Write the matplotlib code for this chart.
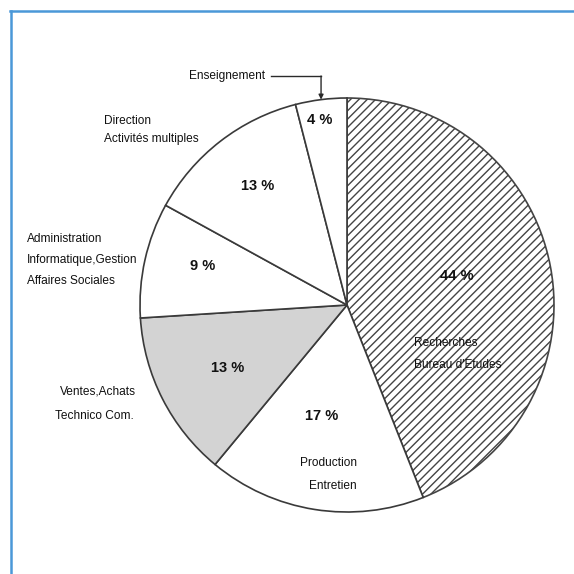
import numpy as np
import matplotlib
matplotlib.use("Agg")
import matplotlib.pyplot as plt
from matplotlib.lines import Line2D

# Répartition des effectifs par fonction (%)
categories = [
    "Recherches\nBureau d'Etudes",
    "Production\nEntretien",
    "Ventes,Achats\nTechnico Com.",
    "Administration\nInformatique,Gestion\nAffaires Sociales",
    "Direction\nActivités multiples",
    "Enseignement",
]
values = [44, 17, 13, 9, 13, 4]
fills = ["white", "white", "#d3d3d3", "white", "white", "white"]
hatches = ["////", None, None, None, None, None]

W = H = 574
fig = plt.figure(figsize=(W / 100, H / 100), dpi=100)
ax = fig.add_axes([0, 0, 1, 1])

plt.rcParams["hatch.linewidth"] = 1.0
cx, cy, R = 347, H - 305, 207

wedges, _ = ax.pie(values, startangle=90, counterclock=False,
                   center=(cx, cy), radius=R, colors=fills,
                   wedgeprops=dict(edgecolor="#3a3a3a", linewidth=1.2),
                   frame=True)
for w, h in zip(wedges, hatches):
    if h:
        w.set_hatch(h)
        w.set_edgecolor("#444444")

ax.set_xlim(0, W)
ax.set_ylim(0, H)
ax.set_aspect("equal")
ax.axis("off")

font = ["Liberation Sans", "DejaVu Sans"]

# percentage labels inside each wedge
pct_pos = [(457, 276), (322, 416), (228, 368), (203, 266), (258, 186), (320, 120)]
for v, (x, y) in zip(values, pct_pos):
    ax.text(x, H - y, f"{v} %", ha="center", va="center", fontsize=10.5,
            fontweight="bold", family=font, color="#111111")

# category labels
def label(lines, x, y, dy, ha="left"):
    for i, s in enumerate(lines):
        ax.text(x, H - (y + i * dy), s, ha=ha, va="center", fontsize=8.6,
                family=font, color="#111111")

label(["Recherches", "Bureau d'Etudes"], 414, 343, 22)
label(["Production"], 300, 463, 0)
label(["Entretien"], 309, 486, 0)
label(["Ventes,Achats"], 136, 391, 0, ha="right")
label(["Technico Com."], 55, 416, 0)
label(["Administration", "Informatique,Gestion", "Affaires Sociales"], 27, 239, 21)
label(["Direction", "Activités multiples"], 104, 121, 18)

# Enseignement: elbow leader pointing to the middle of its wedge
start = 90 - 360 * sum(values[:-1]) / 100
mid = np.deg2rad(start - 360 * values[-1] / 200)
tx, ty = cx + R * np.cos(mid), cy + R * np.sin(mid)
ax.text(265, H - 76, "Enseignement", ha="right", va="center", fontsize=8.6,
        family=font, color="#111111")
ax.plot([271, tx], [H - 76, H - 76], color="#2a2a2a", lw=1.0)
ax.annotate("", xy=(tx, ty), xytext=(tx, H - 76),
            arrowprops=dict(arrowstyle="-|>", color="#2a2a2a", lw=1.0,
                            mutation_scale=7, shrinkA=0, shrinkB=0))

# blue frame (top and left)
blue = "#4a98d8"
fig.add_artist(Line2D([10 / W, 1], [1 - 11 / H, 1 - 11 / H], color=blue, lw=1.8,
                      transform=fig.transFigure))
fig.add_artist(Line2D([11 / W, 11 / W], [0, 1 - 11 / H], color=blue, lw=1.8,
                      transform=fig.transFigure))

fig.savefig("out.png", dpi=100, facecolor="white")
